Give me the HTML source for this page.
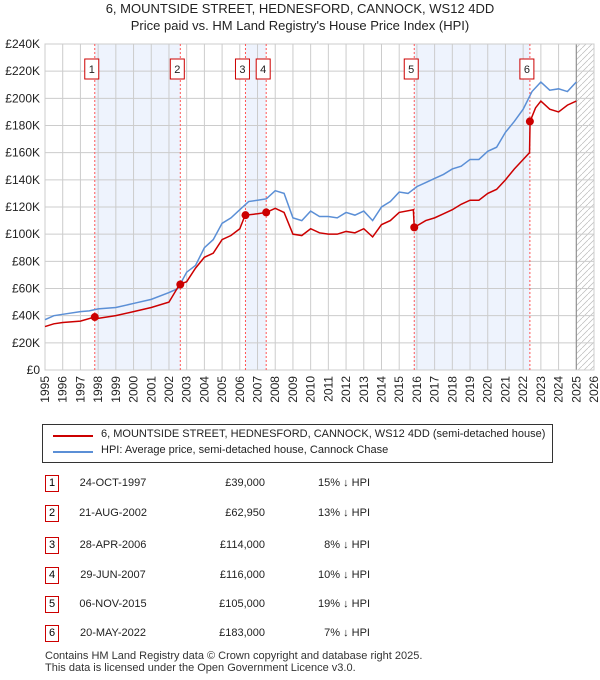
<!DOCTYPE html>
<html><head><meta charset="utf-8"><style>
body{margin:0;background:#fff;font-family:"Liberation Sans","DejaVu Sans",sans-serif;}
#wrap{position:relative;width:600px;height:680px;overflow:hidden;}
.t{position:absolute;font-size:12px;color:#222;white-space:nowrap}
.num{position:absolute;width:12px;height:15px;border:1px solid #c00;font-size:11px;text-align:center;line-height:15px;left:45px}
</style></head><body><div id="wrap">
<div class="t" style="left:0;width:600px;text-align:center;top:1px;font-size:13px">6, MOUNTSIDE STREET, HEDNESFORD, CANNOCK, WS12 4DD</div>
<div class="t" style="left:0;width:600px;text-align:center;top:18px;font-size:13px">Price paid vs. HM Land Registry's House Price Index (HPI)</div>
<svg id="chart" width="600" height="410" style="position:absolute;left:0;top:0"></svg>
<div style="position:absolute;left:42px;top:424px;width:509px;height:37px;border:1px solid #333;">
<div style="position:absolute;left:10px;top:10px;width:40px;height:2px;background:#c00"></div>
<div class="t" style="left:58px;top:3px;font-size:11px">6, MOUNTSIDE STREET, HEDNESFORD, CANNOCK, WS12 4DD (semi-detached house)</div>
<div style="position:absolute;left:10px;top:26px;width:40px;height:2px;background:#5b8fd6"></div>
<div class="t" style="left:58px;top:19px;font-size:11px">HPI: Average price, semi-detached house, Cannock Chase</div>
</div>
<div id="tbl"></div>
<div class="t" style="left:45px;top:650px;font-size:11px;line-height:12px;color:#333">Contains HM Land Registry data © Crown copyright and database right 2025.<br>This data is licensed under the Open Government Licence v3.0.</div>
</div>
<script>
const hpiT=[1995,1995.5,1996,1997,1997.5,1998,1999,2000,2001,2002,2002.5,2003,2003.5,2004,2004.5,2005,2005.5,2006,2006.5,2007,2007.5,2008,2008.5,2009,2009.5,2010,2010.5,2011,2011.5,2012,2012.5,2013,2013.5,2014,2014.5,2015,2015.5,2016,2016.5,2017,2017.5,2018,2018.5,2019,2019.5,2020,2020.5,2021,2021.5,2022,2022.5,2023,2023.5,2024,2024.5,2025];
const hpiV=[37,40,41,43,43.5,45,46,49,52,57,60,72,77,90,96,108,112,118,124,125,126,132,130,112,110,117,113,113,112,116,114,117,110,120,124,131,130,135,138,141,144,148,150,155,155,161,164,175,183,192,205,212,206,207,205,212];
const ppT=[1995,1995.5,1996,1997,1997.8,1998,1999,2000,2001,2002,2002.6,2003,2003.5,2004,2004.5,2005,2005.5,2006,2006.3,2007,2007.5,2008,2008.5,2009,2009.5,2010,2010.5,2011,2011.5,2012,2012.5,2013,2013.5,2014,2014.5,2015,2015.8,2015.85,2016.5,2017,2017.5,2018,2018.5,2019,2019.5,2020,2020.5,2021,2021.5,2022,2022.36,2022.39,2022.7,2023,2023.5,2024,2024.5,2025];
const ppV=[32,34,35,36,39,38,40,43,46,50,63,65,75,83,86,96,99,104,114,115,116,119,116,100,99,104,101,100,100,102,101,104,98,107,110,116,118,105,110,112,115,118,122,125,125,130,133,140,148,155,160,183,193,198,192,190,195,198];
const saleT=[1997.81,2002.64,2006.32,2007.49,2015.85,2022.38];
const saleV=[39,62.95,114,116,105,183];
const saleDates=["24-OCT-1997","21-AUG-2002","28-APR-2006","29-JUN-2007","06-NOV-2015","20-MAY-2022"];
const salePrices=["£39,000","£62,950","£114,000","£116,000","£105,000","£183,000"];
const saleHpi=["15% ↓ HPI","13% ↓ HPI","8% ↓ HPI","10% ↓ HPI","19% ↓ HPI","7% ↓ HPI"];
const yTicks=[0,20,40,60,80,100,120,140,160,180,200,220,240];
const xTicks=[1995,1996,1997,1998,1999,2000,2001,2002,2003,2004,2005,2006,2007,2008,2009,2010,2011,2012,2013,2014,2015,2016,2017,2018,2019,2020,2021,2022,2023,2024,2025,2026];
const X0=45,X1=594,Y0=370,Y1=44;
const xs=t=>X0+(t-1995)/31*(X1-X0), ys=v=>Y0-v/240*(Y0-Y1);
const svg=document.getElementById('chart');const NS='http://www.w3.org/2000/svg';
function mk(tag,a,name){const e=document.createElementNS(NS,tag);for(const k in a)e.setAttribute(k,a[k]);


svg.appendChild(e);return e;}
const defs=mk('defs',{},'defs');defs.innerHTML='<pattern id="h" width="6" height="6" patternUnits="userSpaceOnUse"><path d="M0,6 L6,0" stroke="#bbb" stroke-width="0.7"/></pattern>';
[[0,1],[2,3],[4,5]].forEach(([a,b])=>mk('rect',{x:xs(saleT[a]),y:Y1,width:xs(saleT[b])-xs(saleT[a]),height:Y0-Y1,fill:'#eef3fd'},'shaded-period'));
mk('rect',{x:xs(2025),y:Y1,width:X1-xs(2025),height:Y0-Y1,fill:'url(#h)'},'future-hatch');
yTicks.forEach(v=>{mk('line',{x1:X0,x2:X1,y1:ys(v),y2:ys(v),stroke:'#ccc'},'y-gridline');
const t=mk('text',{x:40,y:ys(v)+4,'text-anchor':'end','font-size':12,fill:'#222'},'y-tick-label');t.textContent='£'+(v?v+'K':'0');});
xTicks.forEach(y=>{mk('line',{x1:xs(y),x2:xs(y),y1:Y1,y2:Y0,stroke:'#ccc'},'x-gridline');
const t=mk('text',{x:xs(y)+4,y:Y0+6,'text-anchor':'end','font-size':12,fill:'#222',transform:`rotate(-90 ${xs(y)+4} ${Y0+6})`},'x-tick-label');t.textContent=y;});
mk('line',{x1:xs(2025),x2:xs(2025),y1:Y1,y2:Y0,stroke:'#888'},'today-line');
mk('rect',{x:X0,y:Y1,width:X1-X0,height:Y0-Y1,fill:'none',stroke:'#ccc'},'plot-border');
saleT.forEach((t,i)=>{mk('line',{x1:xs(t),x2:xs(t),y1:Y1,y2:Y0,stroke:'#f55','stroke-dasharray':'2,2'},'sale-marker-line');
mk('rect',{x:xs(t)-3-7,y:59,width:14,height:20,fill:'#fff',stroke:'#c00'},'sale-label-box');
const tx=mk('text',{x:xs(t)-3,y:73,'text-anchor':'middle','font-size':11,fill:'#222'},'sale-label');tx.textContent=i+1;});
mk('polyline',{points:hpiT.map((t,i)=>xs(t)+','+ys(hpiV[i])).join(' '),fill:'none',stroke:'#5b8fd6','stroke-width':1.5},'hpi-line');
mk('polyline',{points:ppT.map((t,i)=>xs(t)+','+ys(ppV[i])).join(' '),fill:'none',stroke:'#c00','stroke-width':1.5},'price-line');
saleT.forEach((t,i)=>mk('circle',{cx:xs(t),cy:ys(saleV[i]),r:4,fill:'#c00'},'sale-point'));
const tb=document.getElementById('tbl');
saleDates.forEach((d,i)=>{const y=[475,505,537,567,596,625][i];
tb.insertAdjacentHTML('beforeend',`<div class="num" style="top:${y}px">${i+1}</div>
<div class="t" style="left:78px;top:${y+2}px;width:70px;text-align:center;font-size:11px">${d}</div>
<div class="t" style="left:185px;top:${y+2}px;width:80px;text-align:right;font-size:11px">${salePrices[i]}</div>
<div class="t" style="left:290px;top:${y+2}px;width:80px;text-align:right;font-size:11px">${saleHpi[i]}</div>`);});
</script></body></html>
